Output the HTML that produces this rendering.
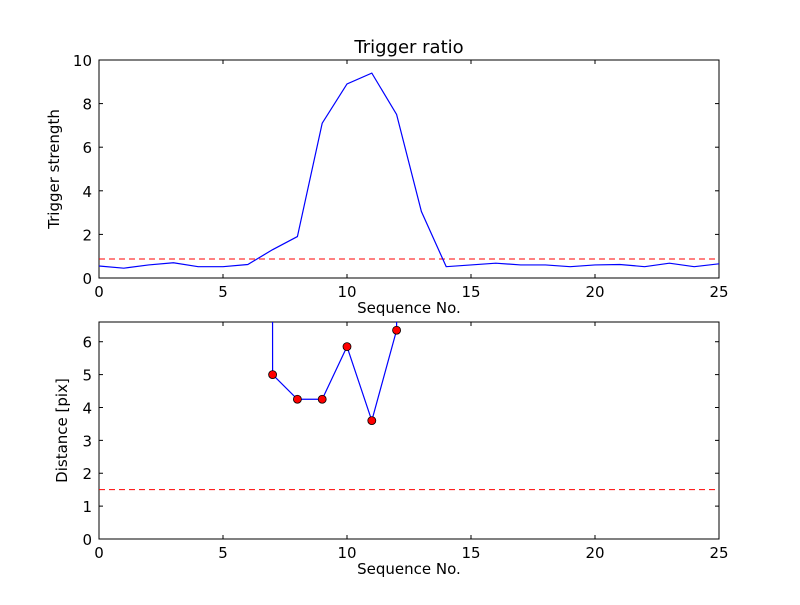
<!DOCTYPE html>
<html><head><meta charset="utf-8"><style>
body{margin:0;background:#fff;}
svg text{font-family:"DejaVu Sans","Liberation Sans",sans-serif;fill:#000;}
</style></head><body>
<svg id="c" width="800" height="600"></svg>
<script>
const xTicks=[0,5,10,15,20,25];
const topY=[0,2,4,6,8,10];
const botY=[0,1,2,3,4,5,6];
const strengthX=[0,1,2,3,4,5,6,7,8,9,10,11,12,13,14,15,16,17,18,19,20,21,22,23,24,25];
const strength=[0.55,0.45,0.6,0.7,0.52,0.52,0.62,1.3,1.9,7.1,8.9,9.4,7.5,3.05,0.52,0.6,0.68,0.6,0.6,0.52,0.6,0.62,0.52,0.68,0.52,0.65];
const strengthThreshold=0.87;
const distX=[6,7,8,9,10,11,12,13];
const dist=[1000,5.0,4.25,4.25,5.85,3.6,6.35,1000];
const distThreshold=1.5;
const NS="http://www.w3.org/2000/svg";
const svg=document.getElementById('c');
function mk(t,a,p){const e=document.createElementNS(NS,t);for(const k in a)e.setAttribute(k,a[k]);(p||svg).appendChild(e);return e;}
function panel(id,top,bot,ymax,yt,ylabel,title,yoff){
  const L=99,R=719;
  const sx=v=>L+v/25*(R-L), sy=v=>bot-v/ymax*(bot-top);
  const g=mk('g',{});
  
  
  const cp=mk('clipPath',{id:id+'clip'},g);mk('rect',{x:L,y:top,width:R-L,height:bot-top},cp);
  const ax=mk('rect',{x:L,y:top,width:R-L,height:bot-top,fill:'#fff',stroke:'#000','stroke-width':1},g);
  
  xTicks.forEach(v=>{const x=sx(v);mk('line',{x1:x,x2:x,y1:bot,y2:bot-4,stroke:'#000'},g);mk('line',{x1:x,x2:x,y1:top,y2:top+4,stroke:'#000'},g);
    const t=mk('text',{x:x,y:bot+19,'text-anchor':'middle','font-size':15},g);t.textContent=v;
    });
  yt.forEach(v=>{const y=sy(v);mk('line',{x1:L,x2:L+4,y1:y,y2:y,stroke:'#000'},g);mk('line',{x1:R,x2:R-4,y1:y,y2:y,stroke:'#000'},g);
    const t=mk('text',{x:L-7,y:y+6,'text-anchor':'end','font-size':15},g);t.textContent=v;
    });
  const xl=mk('text',{x:(L+R)/2,y:bot+35,'text-anchor':'middle','font-size':15},g);xl.textContent='Sequence No.';
  
  const yl=mk('text',{x:0,y:0,'text-anchor':'middle','font-size':15,transform:`translate(${L-yoff},${(top+bot)/2}) rotate(-90)`},g);yl.textContent=ylabel;
  
  if(title){const tt=mk('text',{x:(L+R)/2,y:top-7,'text-anchor':'middle','font-size':18},g);tt.textContent=title;
    }
  const cg=mk('g',{'clip-path':`url(#${id}clip)`},g);
  return {sx,sy,cg,L,R};
}
const p1=panel('top',60,278,10,topY,'Trigger strength','Trigger ratio',40);
let th=mk('line',{x1:p1.L,x2:p1.R,y1:p1.sy(strengthThreshold),y2:p1.sy(strengthThreshold),stroke:'red','stroke-dasharray':'6,4'},p1.cg);

let ln=mk('polyline',{points:strength.map((v,i)=>p1.sx(strengthX[i])+','+p1.sy(v)).join(' '),fill:'none',stroke:'blue','stroke-width':1.2},p1.cg);

const p2=panel('bottom',322,539,6.6,botY,'Distance [pix]','',32);
th=mk('line',{x1:p2.L,x2:p2.R,y1:p2.sy(distThreshold),y2:p2.sy(distThreshold),stroke:'red','stroke-dasharray':'6,4'},p2.cg);

ln=mk('polyline',{points:dist.map((v,i)=>p2.sx(distX[i])+','+p2.sy(v)).join(' '),fill:'none',stroke:'blue','stroke-width':1.2},p2.cg);

dist.forEach((v,i)=>{const c=mk('circle',{cx:p2.sx(distX[i]),cy:p2.sy(v),r:4,fill:'red',stroke:'#000','stroke-width':0.8},p2.cg);
  });
</script>
</body></html>
